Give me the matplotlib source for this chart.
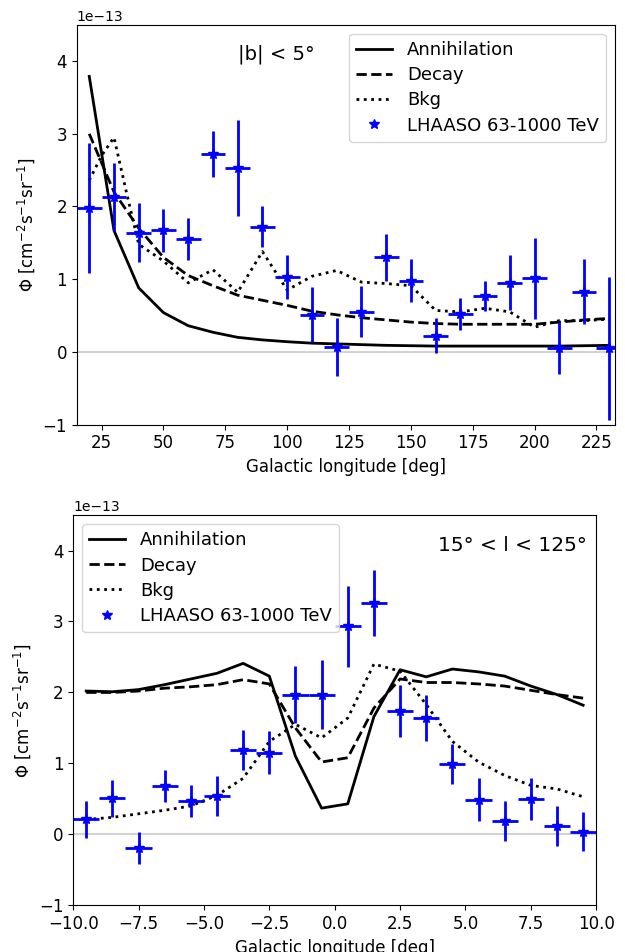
import numpy as np
import matplotlib
matplotlib.use("Agg")
import matplotlib.pyplot as plt
from matplotlib.lines import Line2D

SCALE = 1e-13

# ---------------- Top panel: |b| < 5 deg ----------------
l_data = [20, 30, 40, 50, 60, 70, 80, 90, 100, 110, 120, 130, 140, 150, 160, 170, 180, 190, 200, 210, 220, 230]
l_flux = [1.98, 2.13, 1.64, 1.67, 1.55, 2.72, 2.53, 1.72, 1.03, 0.51, 0.07, 0.55, 1.30, 0.98, 0.22, 0.52, 0.77, 0.95, 1.01, 0.05, 0.83, 0.05]
l_err = [0.90, 0.47, 0.41, 0.30, 0.29, 0.32, 0.66, 0.28, 0.30, 0.38, 0.40, 0.35, 0.32, 0.30, 0.24, 0.22, 0.21, 0.38, 0.56, 0.36, 0.45, 0.98]
l_xerr = 5

l_model = [20, 30, 40, 50, 60, 70, 80, 90, 100, 110, 120, 130, 140, 150, 160, 170, 180, 190, 200, 210, 220, 230]
l_ann = [3.79, 1.67, 0.88, 0.54, 0.36, 0.27, 0.20, 0.165, 0.14, 0.12, 0.11, 0.10, 0.09, 0.085, 0.08, 0.08, 0.08, 0.08, 0.08, 0.08, 0.085, 0.09]
l_dec = [3.00, 2.20, 1.70, 1.30, 1.05, 0.91, 0.78, 0.71, 0.64, 0.56, 0.51, 0.47, 0.44, 0.41, 0.39, 0.38, 0.38, 0.38, 0.38, 0.41, 0.44, 0.46]

l_bkg_x = [20, 25, 30, 35, 40, 50, 60, 70, 80, 90, 100, 110, 120, 130, 140, 150, 160, 170, 180, 190, 200, 210, 220, 230]
l_bkg = [2.36, 2.70, 2.95, 2.20, 1.48, 1.25, 0.95, 1.13, 0.82, 1.38, 0.85, 1.04, 1.12, 0.96, 0.94, 0.91, 0.57, 0.55, 0.60, 0.55, 0.34, 0.43, 0.43, 0.45]

# ---------------- Bottom panel: 15 < l < 125 deg ----------------
b_data = [-9.5, -8.5, -7.5, -6.5, -5.5, -4.5, -3.5, -2.5, -1.5, -0.5, 0.5, 1.5, 2.5, 3.5, 4.5, 5.5, 6.5, 7.5, 8.5, 9.5]
b_flux = [0.21, 0.51, -0.19, 0.68, 0.47, 0.54, 1.19, 1.15, 1.97, 1.97, 2.93, 3.26, 1.74, 1.64, 0.99, 0.49, 0.19, 0.50, 0.12, 0.04]
b_err = [0.26, 0.26, 0.23, 0.23, 0.23, 0.28, 0.28, 0.30, 0.40, 0.49, 0.57, 0.47, 0.37, 0.32, 0.28, 0.30, 0.28, 0.30, 0.28, 0.28]
b_xerr = 0.5

b_ann = [2.02, 2.01, 2.04, 2.11, 2.19, 2.27, 2.41, 2.23, 1.10, 0.37, 0.43, 1.66, 2.32, 2.22, 2.33, 2.29, 2.23, 2.09, 1.97, 1.82]
b_dec = [2.00, 2.00, 2.02, 2.06, 2.08, 2.11, 2.18, 2.12, 1.50, 1.02, 1.08, 1.78, 2.19, 2.14, 2.14, 2.12, 2.09, 2.03, 1.97, 1.92]
b_bkg = [0.21, 0.24, 0.29, 0.34, 0.40, 0.55, 0.79, 1.31, 1.55, 1.36, 1.64, 2.40, 2.30, 1.83, 1.31, 1.02, 0.83, 0.69, 0.64, 0.53]

fig = plt.figure(figsize=(6.25, 9.52), dpi=100)
ax1 = fig.add_axes([0.123, 0.554, 0.861, 0.420])
ax2 = fig.add_axes([0.117, 0.049, 0.837, 0.410])

def s(v):
    return np.asarray(v, dtype=float) * SCALE

ylabel = r"$\Phi$ [cm$^{-2}$s$^{-1}$sr$^{-1}$]"

def legend_handles():
    return [
        Line2D([], [], color="k", lw=2, ls="-", label="Annihilation"),
        Line2D([], [], color="k", lw=2, ls="--", label="Decay"),
        Line2D([], [], color="k", lw=2, ls=":", label="Bkg"),
        Line2D([], [], color="blue", marker="*", ls="none", ms=7, label="LHAASO 63-1000 TeV"),
    ]

def draw(ax, xm, ann, dec, xb, bkg, xd, flux, err, xerr):
    ax.axhline(0, color="lightgray", lw=1.5, zorder=0)
    ax.plot(xm, s(ann), "k-", lw=2)
    ax.plot(xm, s(dec), "k--", lw=2)
    ax.plot(xb, s(bkg), "k:", lw=2)
    ax.errorbar(xd, s(flux), yerr=s(err), xerr=xerr, fmt="*", color="blue",
                ms=8, elinewidth=2, capsize=0, zorder=3)
    ax.set_ylim(-1e-13, 4.5e-13)
    ax.set_xlabel("Galactic longitude [deg]", fontsize=12)
    ax.set_ylabel(ylabel, fontsize=12)
    ax.tick_params(labelsize=12)

draw(ax1, l_model, l_ann, l_dec, l_bkg_x, l_bkg, l_data, l_flux, l_err, l_xerr)
ax1.set_xlim(15, 232.5)
ax1.text(0.37, 0.925, r"|b| < 5°", transform=ax1.transAxes, fontsize=14, ha="center", va="center")
ax1.legend(handles=legend_handles(), loc="upper right", fontsize=13, handlelength=2.0,
           labelspacing=0.4)

draw(ax2, b_data, b_ann, b_dec, b_data, b_bkg, b_data, b_flux, b_err, b_xerr)
ax2.set_xlim(-10, 10)
ax2.text(0.84, 0.923, r"15° < l < 125°", transform=ax2.transAxes, fontsize=14.5, ha="center", va="center")
ax2.legend(handles=legend_handles(), loc="upper left", fontsize=13, handlelength=2.0,
           labelspacing=0.4)

fig.savefig("out.png", dpi=100)
